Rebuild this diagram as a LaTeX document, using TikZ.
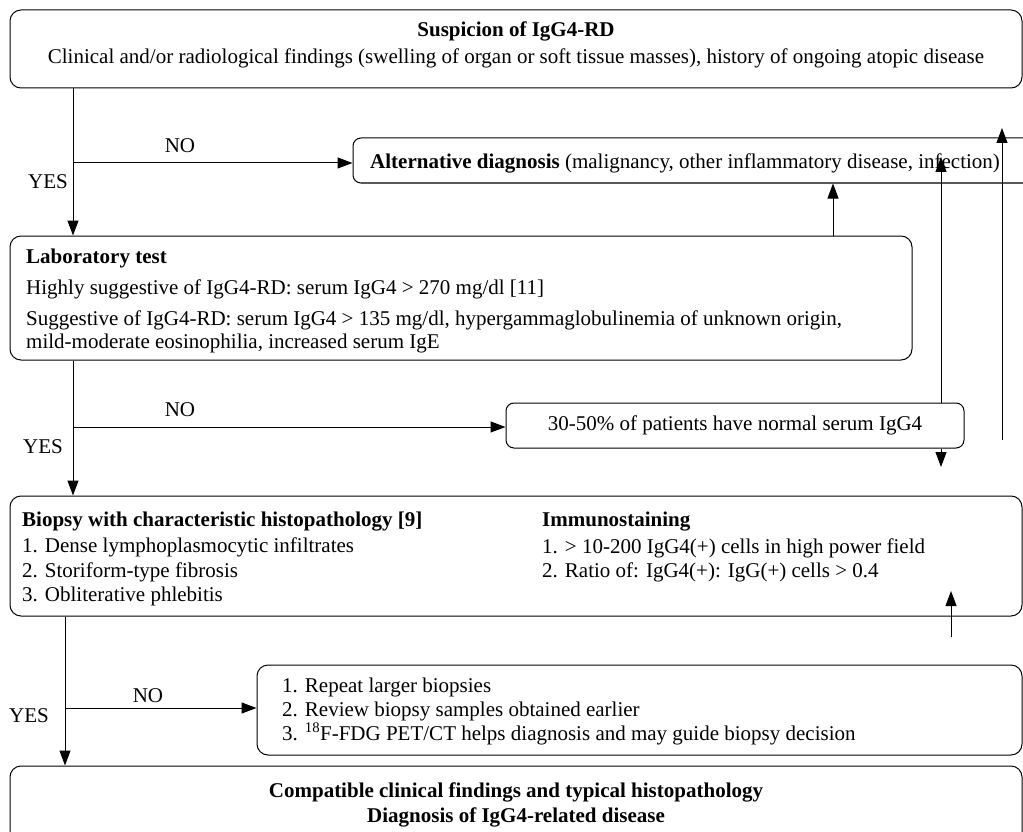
\documentclass[tikz,border=0pt]{standalone}
\usepackage{fontspec}
\setmainfont{Liberation Serif}
\usetikzlibrary{arrows.meta,calc}
\begin{document}
\begin{tikzpicture}[x=1pt,y=-1pt,
 box/.style={draw, line width=1pt, rounded corners=11pt, inner sep=0pt},
 sbox/.style={box, rounded corners=8pt},
 txt/.style={inner sep=0pt, anchor=west, font=\fontsize{21}{25}\selectfont, text height=15pt, text depth=5pt},
 ctxt/.style={txt, anchor=center},
 arr/.style={line width=1pt, -{Triangle[length=15pt,width=11pt]}},
 ln/.style={line width=1pt}]
\useasboundingbox (0,0) rectangle (1023,832);
\clip (0,0) rectangle (1023,832);

% boxes
\node[box, minimum width=1012pt, minimum height=78pt] (top) at (516,49) {};
\node[sbox, minimum width=687pt, minimum height=45pt] (alt) at (696.5,160.5) {};
\node[box, minimum width=902pt, minimum height=124pt] (lab) at (461,298) {};
\node[sbox, minimum width=458pt, minimum height=45pt] (pct) at (735,425.5) {};
\node[box, minimum width=1012pt, minimum height=120pt] (bio) at (516,556) {};
\node[box, minimum width=765pt, minimum height=90pt] (rep) at (639.5,710) {};
\node[box, minimum width=1012pt, minimum height=84pt] (fin) at (516,808) {};

% texts
\node[ctxt] (t1) at (516,32) {\textbf{Suspicion of IgG4-RD}};
\node[ctxt] (t2) at (516,59) {Clinical and/or radiological findings (swelling of organ or soft tissue masses), history of ongoing atopic disease};
\node[txt] (t3) at (370,163) {\textbf{Alternative diagnosis} (malignancy, other inflammatory disease, infection)};
\node[txt] (t4) at (26,258) {\textbf{Laboratory test}};
\node[txt] (t5) at (26,289) {Highly suggestive of IgG4-RD: serum IgG4 > 270 mg/dl [11]};
\node[txt] (t6) at (26,320) {Suggestive of IgG4-RD: serum IgG4 > 135 mg/dl, hypergammaglobulinemia of unknown origin,};
\node[txt] (t7) at (26,343) {mild-moderate eosinophilia, increased serum IgE};
\node[ctxt] (t8) at (735,425) {30-50\% of patients have normal serum IgG4};
\node[txt] (t9) at (22,521) {\textbf{Biopsy with characteristic histopathology [9]}};
\node[txt] (t10) at (22,547) {1. Dense lymphoplasmocytic infiltrates};
\node[txt] (t11) at (22,572) {2. Storiform-type fibrosis};
\node[txt] (t12) at (22,596) {3. Obliterative phlebitis};
\node[txt] (t13) at (542,521) {\textbf{Immunostaining}};
\node[txt] (t14) at (542,548) {1. > 10-200 IgG4(+) cells in high power field};
\node[txt] (t15) at (542,572) {2. Ratio of: IgG4(+): IgG(+) cells > 0.4};
\node[txt] (t16) at (282,687) {1. Repeat larger biopsies};
\node[txt] (t17) at (282,711) {2. Review biopsy samples obtained earlier};
\node[txt] (t18) at (282,735) {3. \textsuperscript{18}F-FDG PET/CT helps diagnosis and may guide biopsy decision};
\node[ctxt] (t19) at (516,792) {\textbf{Compatible clinical findings and typical histopathology}};
\node[ctxt] (t20) at (516,817) {\textbf{Diagnosis of IgG4-related disease}};

% labels
\node[ctxt] (no1) at (180,148) {NO};
\node[ctxt] (yes1) at (48,183) {YES};
\node[ctxt] (no2) at (180,411) {NO};
\node[ctxt] (yes2) at (43,448) {YES};
\node[ctxt] (no3) at (148,697) {NO};
\node[ctxt] (yes3) at (29,717) {YES};

% left connectors
\coordinate (b1) at (73,163);
\draw[arr] (b1 |- top.south) -- (b1 |- lab.north);
\draw[arr] (b1) -- (b1 -| alt.west);
\coordinate (b2) at (73,427);
\draw[arr] (b2 |- lab.south) -- (b2 |- bio.north);
\draw[arr] (b2) -- (b2 -| pct.west);
\coordinate (b3) at (65,708);
\draw[arr] (b3 |- bio.south) -- (b3 |- fin.north);
\draw[arr] (b3) -- (b3 -| rep.west);

% right connectors
\coordinate (c1) at (833,0);
\draw[arr] (c1 |- lab.north) -- (c1 |- alt.south);
\coordinate (c2) at (941,157);
\draw[arr] (c2 |- pct.north) -- (c2);
\coordinate (c3) at (941,467);
\draw[arr] (c3 |- pct.south) -- (c3);
\coordinate (c4a) at (1002,440);
\coordinate (c4b) at (1002,128);
\draw[arr] (c4a) -- (c4b);
\coordinate (c5a) at (951,637);
\coordinate (c5b) at (951,591);
\draw[arr] (c5a) -- (c5b);
\end{tikzpicture}
\end{document}
